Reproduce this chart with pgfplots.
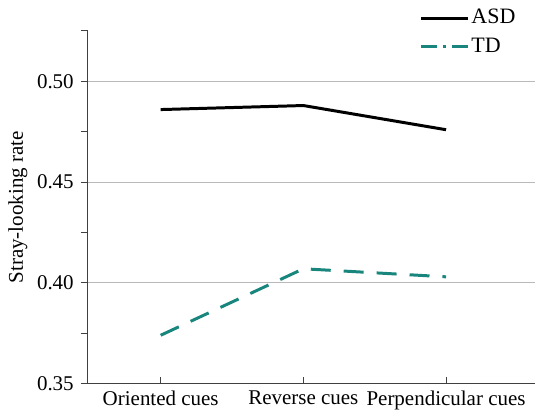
\documentclass[border=0pt]{standalone}
\usepackage{pgfplots}
\pgfplotsset{compat=1.18}
\usepackage{fontspec}
\setmainfont{Liberation Serif}
\definecolor{tdcol}{RGB}{24,134,124}
\definecolor{gridgray}{RGB}{185,185,185}
\begin{document}
\fontsize{21bp}{25bp}\selectfont
\begin{tikzpicture}
\begin{axis}[
  scale only axis,
  width=447bp, height=353bp,
  xmin=-0.51, xmax=2.62,
  ymin=0.35, ymax=0.525,
  axis x line=bottom, axis y line=left,
  axis line style={-, line width=1pt, black!75},
  xtick={0,1,2},
  xticklabels={Oriented cues, Reverse cues, Perpendicular cues},
  ytick={0.35,0.40,0.45,0.50},
  minor ytick={0.375,0.425,0.475,0.525},
  yticklabel style={/pgf/number format/.cd, fixed, fixed zerofill, precision=2},
  /pgf/number format/assume math mode=true,
  x tick style={black!75, line width=1pt},
  y tick style={black!75, line width=1pt},
  xtick align=inside,
  ytick align=outside,
  major tick length=7bp,
  minor tick length=7bp,
  ymajorgrids,
  major grid style={gridgray, line width=0.8pt},
  ylabel={Stray-looking rate},
  ylabel style={at={(axis description cs:-0.157,0.5)}, anchor=center},
  tick label style={font=\fontsize{21bp}{25bp}\selectfont},
  label style={font=\fontsize{21bp}{25bp}\selectfont},
  legend style={at={(0.961,1.066)}, anchor=north east, draw=none, fill=none,
    font=\fontsize{22bp}{26bp}\selectfont, row sep=8bp, inner sep=0pt,
    nodes={inner sep=1.5bp}},
  legend cell align=left,
  clip=false,
]
\addplot[black, line width=3pt, line join=round,
  legend image code/.code={\draw[black, line width=3pt] (0bp,0bp) -- (47bp,0bp);}]
  coordinates {(0,0.486) (1,0.488) (2,0.476)};
\addlegendentry{\fontsize{22bp}{26bp}\selectfont ASD}
\addplot[tdcol, line width=3pt, dash pattern=on 20bp off 13bp,
  legend image code/.code={\draw[tdcol, line width=3pt, dash pattern=on 16bp off 6bp on 3bp off 6bp] (0bp,0bp) -- (47bp,0bp);}]
  coordinates {(0,0.374) (1,0.407) (2,0.403)};
\addlegendentry{\fontsize{22bp}{26bp}\selectfont TD}
\end{axis}
\useasboundingbox ([xshift=-88bp,yshift=-32bp]current axis.south west) rectangle ([yshift=31bp]current axis.north east);
\end{tikzpicture}
\end{document}
